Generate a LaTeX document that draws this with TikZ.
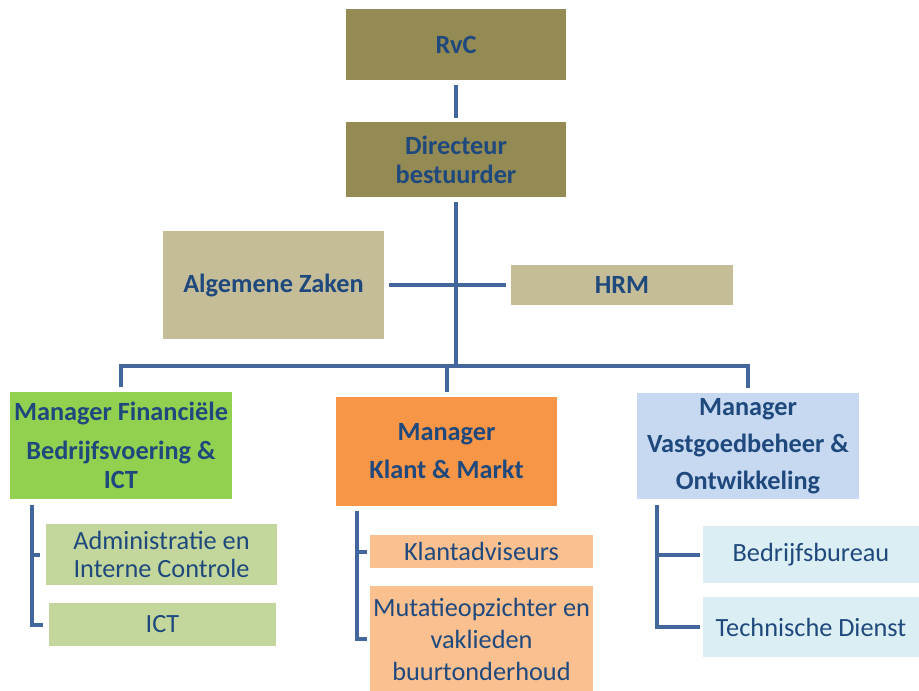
\documentclass[tikz,border=0pt]{standalone}
\usepackage{fontspec}
\setmainfont{Carlito}
\definecolor{olivebox}{HTML}{948A54}
\definecolor{tanbox}{HTML}{C4BD97}
\definecolor{greenbox}{HTML}{92D050}
\definecolor{orangebox}{HTML}{F79646}
\definecolor{bluebox}{HTML}{C6D9F1}
\definecolor{greensub}{HTML}{C3D69B}
\definecolor{orangesub}{HTML}{FAC090}
\definecolor{bluesub}{HTML}{DBEEF4}
\definecolor{linecol}{HTML}{43679D}
\definecolor{txtcol}{HTML}{1F497D}
\begin{document}
\begin{tikzpicture}[x=1pt,y=-1pt,
  box/.style={rectangle, inner sep=0pt, outer sep=0pt, align=center, text=txtcol},
  bf/.style={font=\fontsize{26.3}{30}\selectfont\bfseries},
  rg/.style={font=\fontsize{26.3}{28}\selectfont},
  conn/.style={draw=linecol, line width=4pt}]
\useasboundingbox[fill=white] (0,0) rectangle (919,691);
% top
\node[box,bf,fill=olivebox,minimum width=220pt,minimum height=71pt] (rvc) at (456,44.5) {RvC};
\node[box,bf,fill=olivebox,minimum width=220pt,minimum height=75pt,font=\fontsize{26.3}{29}\selectfont\bfseries] (dir) at (456,159.5) {Directeur\\bestuurder};
\node[box,bf,fill=tanbox,minimum width=221pt,minimum height=108pt] (alg) at (273.5,285) {Algemene Zaken};
\node[box,bf,fill=tanbox,minimum width=222pt,minimum height=40pt] (hrm) at (622,285) {HRM};
% managers
\node[box,bf,fill=greenbox,minimum width=222pt,minimum height=107pt,font=\fontsize{26.3}{29}\selectfont\bfseries] (green) at (121,445.5) {Manager Financiële\\[10pt]Bedrijfsvoering \&\\ICT};
\node[box,bf,fill=orangebox,minimum width=221pt,minimum height=109pt,font=\fontsize{26.3}{38}\selectfont\bfseries] (orange) at (446.5,451.5) {Manager\\Klant \& Markt};
\node[box,bf,fill=bluebox,minimum width=222pt,minimum height=106pt,font=\fontsize{26.3}{37}\selectfont\bfseries] (blue) at (748,446) {Manager\\Vastgoedbeheer \&\\Ontwikkeling};
% sub units
\node[box,rg,fill=greensub,minimum width=231pt,minimum height=61pt] (admin) at (161.5,554.5) {Administratie en\\Interne Controle};
\node[box,rg,fill=greensub,minimum width=227pt,minimum height=43pt] (ict) at (162.5,624.5) {ICT};
\node[box,rg,fill=orangesub,minimum width=223pt,minimum height=33pt] (klant) at (481.5,551.5) {Klantadviseurs};
\node[box,rg,fill=orangesub,minimum width=223pt,minimum height=106pt,font=\fontsize{26.3}{32}\selectfont] (mut) at (481.5,639) {Mutatieopzichter en\\vaklieden\\buurtonderhoud};
\node[box,rg,fill=bluesub,minimum width=216pt,minimum height=57pt] (bb) at (811,554.5) {Bedrijfsbureau};
\node[box,rg,fill=bluesub,minimum width=216pt,minimum height=60pt] (td) at (811,627) {Technische Dienst};
% connectors
\coordinate (bus) at (456,366);
\draw[conn, shorten <=5pt, shorten >=4pt] (rvc.south) -- (dir.north);
\draw[conn, shorten <=5pt] (dir.south) -- (bus);
\draw[conn, shorten <=5pt, shorten >=5pt] (alg.east) -- (hrm.west);
\draw[conn, shorten <=5pt, shorten >=5pt] (green.north) -- (green.north |- bus) -- (blue.north |- bus) -- (blue.north);
\draw[conn, shorten >=5pt] (orange.north |- bus) -- (orange.north);
% brackets
\coordinate (gtop) at (32,505);
\draw[conn, shorten >=6pt] (gtop) |- (ict.west);
\draw[conn, shorten >=6pt] (gtop |- admin.west) -- (admin.west);
\coordinate (otop) at (357,511);
\draw[conn, shorten >=3pt] (otop) |- (mut.west);
\draw[conn, shorten >=3pt] (otop |- klant.west) -- (klant.west);
\coordinate (btop) at (657,505);
\draw[conn, shorten >=3pt] (btop) |- (td.west);
\draw[conn, shorten >=3pt] (btop |- bb.west) -- (bb.west);
\end{tikzpicture}
\end{document}
